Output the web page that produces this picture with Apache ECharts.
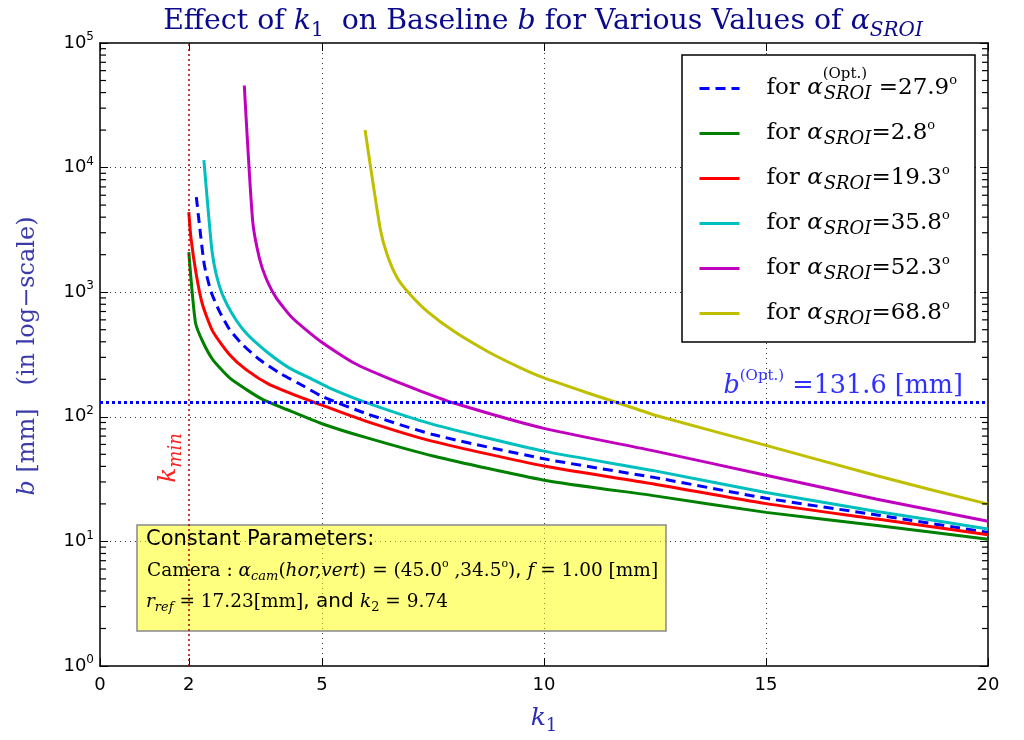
<!DOCTYPE html>
<html><head><meta charset="utf-8">
<script src="https://cdn.jsdelivr.net/npm/echarts@6/dist/echarts.min.js"></script>
<style>html,body{margin:0;padding:0;background:#fff}#c{width:1024px;height:740px}</style>
</head><body><div id="c"></div>
<script>
// ---------- data ----------
const xTickValues = [0, 2, 5, 10, 15, 20];
const yMajorValues = [1, 10, 100, 1000, 10000, 100000];
const yMinorMultipliers = [2, 3, 4, 5, 6, 7, 8, 9];
const kMin = 2;
const bOpt = 131.6;
const seriesNames = ['opt27.9', 'a2.8', 'a19.3', 'a35.8', 'a52.3', 'a68.8'];
const alphaValues = ['27.9', '2.8', '19.3', '35.8', '52.3', '68.8'];

const alphaOpt279 = [[2.17,5800],[2.24,3460],[2.35,1655],[2.5,1014],[2.69,702],[2.92,501],[3.21,380],[3.59,288],[4.04,225],[4.49,184],[5,146],[6,106],[7.5,72],[10,46],[12.5,32.5],[15,22.2],[17.5,16.3],[20,11.8]];
const alpha28 = [[2.0,2100],[2.15,570],[2.31,404],[2.54,288],[2.92,205],[3.29,166],[3.66,138],[4.19,115],[5,88],[6,68],[7.5,48.5],[10,31],[12.5,23.2],[15,17.1],[17.5,13.4],[20,10.4]];
const alpha193 = [[2.0,4400],[2.05,2700],[2.17,1377],[2.31,793],[2.54,485],[2.92,315],[3.29,239],[3.81,182],[4.42,148],[5,124],[6,92],[7.5,63.5],[10,40.3],[12.5,28.8],[15,20.1],[17.5,15.1],[20,11.3]];
const alpha358 = [[2.34,11500],[2.52,2180],[2.62,1377],[2.76,953],[2.99,659],[3.29,470],[3.74,336],[4.26,247],[4.79,199],[5.16,171],[6,130],[7.5,87],[10,53],[12.5,36.8],[15,24.7],[17.5,17.4],[20,12.6]];
const alpha523 = [[3.25,45600],[3.44,3680],[3.59,1872],[3.74,1294],[3.97,900],[4.34,618],[4.98,400],[5.72,270],[6.47,205],[7.22,161],[7.97,129],[10,80.7],[12.5,53],[15,34],[17.5,21.8],[20,14.5]];
const alpha688 = [[5.97,20000],[6.31,3250],[6.47,1990],[6.70,1294],[6.96,982],[7.37,702],[7.97,485],[8.72,336],[9.47,247],[10,205],[10.97,156],[12.1,115],[12.5,103],[15,59],[17.5,33.6],[20,19.9]];
const seriesData = [alphaOpt279, alpha28, alpha193, alpha358, alpha523, alpha688];

// ---------- styles ----------
const SERIF = "'DejaVu Serif','Liberation Serif',serif";
const SANS = "'DejaVu Sans','Liberation Sans',sans-serif";
const colors = ['#0000ff', '#008000', '#ff0000', '#00bfbf', '#bf00bf', '#bfbf00'];

function tok(family, size, color, L, italic, pad, extra) {
  const o = {fontFamily: family, fontSize: size, color: color, fill: color, lineHeight: L};
  if (italic) o.fontStyle = 'italic';
  if (pad) o.padding = pad;
  if (extra) Object.assign(o, extra);
  return o;
}
function mathRich(F, color, L, o) {
  o = o || {};
  const subF = o.subF || Math.round(F * 0.7);
  const supF = o.supF || Math.round(F * 0.6);
  const subD = o.subD != null ? o.subD : Math.round(F * 0.3);
  const supU = o.supU != null ? o.supU : Math.round(F * 0.4);
  return {
    r: tok(SERIF, F, color, L),
    i: tok(SERIF, F, color, L, true),
    s: tok(SANS, o.sansF || Math.round(F * 0.95), color, L),
    sub: tok(SERIF, subF, color, L, true, [2 * subD, 0, 0, 0]),
    subr: tok(SERIF, subF, color, L, false, [2 * subD, 0, 0, 0]),
    sup: tok(SERIF, supF, color, L, false, [0, 0, 2 * supU, 0]),
    supz: tok(SERIF, o.supzF || supF, color, L, false, [0, 0, 2 * (o.supzU || supU), 0], {width: 1}),
    g: {width: o.gap || 0, lineHeight: L}
  };
}

const legendText = {};
seriesNames.forEach(function (n, idx) {
  if (idx === 0) legendText[n] = '{g| }{r|for }{i|α}{supz|(Opt.)}{sub|SROI}{r| =' + alphaValues[idx] + '}{sup|o}';
  else legendText[n] = '{g| }{r|for }{i|α}{supz| }{sub|SROI}{r|=' + alphaValues[idx] + '}{sup|o}';
});

// minor tick positions on the log axis (2..9 within each decade)
const minorTickValues = [];
yMajorValues.slice(0, -1).forEach(function (d) { yMinorMultipliers.forEach(function (m) { minorTickValues.push(m * d); }); });

const series = seriesData.map(function (d, idx) {
  return {
    name: seriesNames[idx], type: 'line', data: d, xAxisIndex: 0, yAxisIndex: 0,
    symbol: 'none', smooth: 0.2, z: 3,
    lineStyle: {color: colors[idx], width: 3, type: idx === 0 ? [10, 6] : 'solid'},
    itemStyle: {color: colors[idx], opacity: 0},
    silent: true
  };
});
series[1].markLine = {
  silent: true, symbol: 'none', label: {show: false}, animation: false,
  data: [
    {xAxis: kMin, lineStyle: {color: '#b00000', type: [2, 3], width: 1.5}},
    {yAxis: bOpt, lineStyle: {color: '#0000ff', type: [3, 3], width: 3}}
  ]
};
// minor ticks drawn as tiny marks through the log scale (left and right frame edges)
[[xTickValues[0], 3], [xTickValues[xTickValues.length - 1], -3]].forEach(function (s) {
  series.push({
    type: 'scatter', name: 'minorTicks' + s[0], xAxisIndex: 0, yAxisIndex: 0,
    data: minorTickValues.map(function (v) { return [s[0], v]; }),
    symbol: 'rect', symbolSize: [6, 1.2], symbolOffset: [s[1], 0],
    itemStyle: {color: '#000', opacity: 1}, clip: false, silent: true, z: 4
  });
});

const axisLineStyle = {color: '#000', width: 1.5};
const yLogBase = {type: 'log', logBase: 10, min: yMajorValues[0], max: yMajorValues[yMajorValues.length - 1], gridIndex: 0};

const chart = echarts.init(document.getElementById('c'), null, {renderer: 'canvas'});
chart.setOption({
  animation: false,
  backgroundColor: '#fff',
  grid: {left: 100, right: 36, top: 43, bottom: 74, containLabel: false},
  xAxis: [
    {type: 'value', min: 0, max: 20, position: 'bottom',
     axisLine: {show: true, onZero: false, lineStyle: axisLineStyle},
     axisTick: {show: true, inside: true, length: 8, customValues: xTickValues, lineStyle: {color: '#000', width: 1}},
     axisLabel: {customValues: xTickValues, fontFamily: SANS, fontSize: 18, color: '#000', margin: 10},
     splitLine: {show: true, lineStyle: {color: ['transparent', 'transparent', '#333', '#333', '#333', 'transparent'], type: [1, 4], width: 1}}},
    {type: 'value', min: 0, max: 20, position: 'top',
     axisLine: {show: true, onZero: false, lineStyle: axisLineStyle},
     axisTick: {show: true, inside: true, length: 8, customValues: xTickValues, lineStyle: {color: '#000'}},
     axisLabel: {show: false}, splitLine: {show: false}}
  ],
  yAxis: [
    Object.assign({}, yLogBase, {position: 'left',
      axisLine: {show: true, onZero: false, lineStyle: axisLineStyle},
      axisTick: {show: true, inside: true, length: 8, lineStyle: {color: '#000'}},
      axisLabel: {margin: 6, formatter: function (v) { return '{b|10}{e|' + Math.round(Math.log10(v)) + '}'; },
        rich: {b: {fontFamily: SANS, fontSize: 18, color: '#000', lineHeight: 24},
               e: {fontFamily: SANS, fontSize: 12, color: '#000', lineHeight: 24, padding: [0, 0, 12, 0]}}},
      splitLine: {show: true, showMinLine: false, showMaxLine: false, lineStyle: {color: '#333', type: [1, 4], width: 1}}}),
    Object.assign({}, yLogBase, {position: 'right',
      axisLine: {show: true, onZero: false, lineStyle: axisLineStyle},
      axisTick: {show: true, inside: true, length: 8, lineStyle: {color: '#000'}},
      axisLabel: {show: false}, splitLine: {show: false}})
  ],
  legend: {
    data: seriesNames, orient: 'vertical', left: 698, top: 67, padding: 0,
    itemWidth: 40, itemHeight: 14, itemGap: 2, selectedMode: false,
    lineStyle: {width: 3},
    formatter: function (n) { return legendText[n]; },
    textStyle: {rich: mathRich(23, '#000', 34, {subF: 18, subD: 6, supF: 13, supU: 8, supzF: 15, supzU: 14, gap: 22})},
    z: 10
  },
  series: series,
  graphic: [
    {type: 'rect', z: 5, shape: {x: 682, y: 55, width: 293, height: 287}, style: {fill: '#fff', stroke: '#000', lineWidth: 1.5}},
    {type: 'rect', z: 5, shape: {x: 137, y: 525, width: 529, height: 106}, style: {fill: 'rgba(255,255,0,0.5)', stroke: '#888', lineWidth: 1.5}},
    {type: 'text', z: 6, style: {x: 146, y: 540, text: 'Constant Parameters:', fontFamily: SANS, fontSize: 21, fill: '#000', verticalAlign: 'middle'}},
    {type: 'text', z: 6, style: {x: 147, y: 571, verticalAlign: 'middle',
      text: '{r|Camera : }{i|α}{sub|cam}{r|(}{i|hor,vert}{r|) = (45.0}{sup|o}{r| ,34.5}{sup|o}{r|)}{s|, }{i|f}{r| = 1.00 [mm]}',
      rich: mathRich(18.5, '#000', 28, {sansF: 19})}},
    {type: 'text', z: 6, style: {x: 146, y: 602, verticalAlign: 'middle',
      text: '{i|r}{sub|ref}{r| = 17.23[mm]}{s|, and }{i|k}{subr|2}{r| = 9.74}',
      rich: mathRich(18.5, '#000', 28, {sansF: 20})}},
    {type: 'text', z: 6, style: {x: 543, y: 22, align: 'center', verticalAlign: 'middle',
      text: '{r|Effect of }{i|k}{subr|1}{r|  on Baseline }{i|b}{r| for Various Values of }{i|α}{sub|SROI}',
      rich: mathRich(28.4, '#0a0a8a', 38)}},
    {type: 'text', z: 6, style: {x: 544, y: 718, align: 'center', verticalAlign: 'middle',
      text: '{i|k}{subr|1}', rich: mathRich(25, '#2a2ab5', 36)}},
    {type: 'text', z: 6, x: 28, y: 356, rotation: Math.PI / 2, style: {x: 0, y: 0, align: 'center', verticalAlign: 'middle',
      text: '{i|b}{r| [mm]   (in log−scale)}', rich: mathRich(24, '#3a3aaa', 34)}},
    {type: 'text', z: 6, x: 168, y: 458, rotation: Math.PI / 2, style: {x: 0, y: 0, align: 'center', verticalAlign: 'middle',
      text: '{i|k}{sub|min}', rich: mathRich(25, '#ff2020', 34)}},
    {type: 'text', z: 6, style: {x: 963, y: 386, align: 'right', verticalAlign: 'middle',
      text: '{i|b}{sup|(Opt.)}{r| =131.6 [mm]}', rich: mathRich(25.5, '#3030ff', 40)}}
  ]
});
</script></body></html>
